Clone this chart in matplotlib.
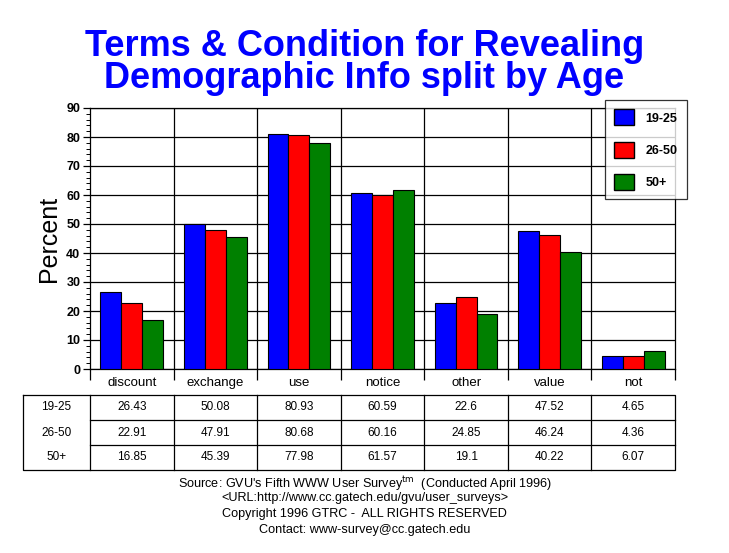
import matplotlib
matplotlib.use('Agg')
import matplotlib.pyplot as plt
from matplotlib.patches import Patch
import numpy as np

# data
categories = ['discount', 'exchange', 'use', 'notice', 'other', 'value', 'not']
groups = ['19-25', '26-50', '50+']
age_19_25 = [26.43, 50.08, 80.93, 60.59, 22.6, 47.52, 4.65]
age_26_50 = [22.91, 47.91, 80.68, 60.16, 24.85, 46.24, 4.36]
age_50p = [16.85, 45.39, 77.98, 61.57, 19.1, 40.22, 6.07]
table_text = [['26.43', '50.08', '80.93', '60.59', '22.6', '47.52', '4.65'],
              ['22.91', '47.91', '80.68', '60.16', '24.85', '46.24', '4.36'],
              ['16.85', '45.39', '77.98', '61.57', '19.1', '40.22', '6.07']]
colors = ['#0000ff', '#ff0000', '#008000']

plt.rcParams['font.family'] = ['Liberation Sans', 'DejaVu Sans']

W, H = 729, 553
fig = plt.figure(figsize=(W / 100, H / 100), dpi=100)

def fx(px):
    return px / W

def fy(py):
    return 1 - py / H

# main axes: pixels 90..675 horizontally, 108..369 vertically
L, R, T, B = 90, 675, 108, 369
ax = fig.add_axes([fx(L), fy(B), fx(R - L), (B - T) / H])
n = len(categories)
x = np.arange(n)
bw = 0.25
series = [age_19_25, age_26_50, age_50p]
for i, s in enumerate(series):
    ax.bar(x + 0.5 + (i - 1) * bw, s, bw, color=colors[i], edgecolor='black', linewidth=0.8, zorder=3)

ax.set_xlim(0, n)
ax.set_ylim(0, 90)
ax.set_yticks(np.arange(0, 91, 10))
ax.set_yticks(np.arange(0, 91, 2), minor=True)
ax.yaxis.grid(True, color='black', linewidth=0.9, zorder=0)
for b in range(1, n):
    ax.axvline(b, color='black', linewidth=0.9, zorder=0)
ax.set_xticks(np.arange(0, n + 1))
ax.set_xticklabels([])
ax.set_xticks(x + 0.5, minor=True)
ax.set_xticklabels(categories, minor=True, fontsize=9.5)
ax.tick_params(axis='x', which='major', length=8, width=0.9)
ax.tick_params(axis='x', which='minor', length=0, pad=6)
ax.tick_params(axis='y', which='major', length=5, width=0.9, labelsize=9, pad=2)
ax.tick_params(axis='y', which='minor', length=3, width=0.7)
for lab in ax.get_yticklabels():
    lab.set_fontweight('bold')
for sp in ax.spines.values():
    sp.set_linewidth(0.9)
ax.set_ylabel('Percent', fontsize=18)
ax.yaxis.set_label_coords((61 - L) / (R - L), 0.5)

# title
fig.text(0.5, fy(46), 'Terms & Condition for Revealing', ha='center', va='center',
         fontsize=26, fontweight='bold', color='#0000ff')
fig.text(0.5, fy(79), 'Demographic Info split by Age', ha='center', va='center',
         fontsize=26, fontweight='bold', color='#0000ff')

# legend
handles = [Patch(facecolor=c, edgecolor='black', label=g) for c, g in zip(colors, groups)]
leg = fig.legend(handles=handles, loc='upper left', bbox_to_anchor=(fx(605), fy(100)),
                 frameon=True, fancybox=False, edgecolor='black', fontsize=9,
                 handlelength=1.6, handleheight=1.6, labelspacing=1.3,
                 borderpad=0.75, handletextpad=0.9, borderaxespad=0)
leg.get_frame().set_linewidth(0.9)
for t in leg.get_texts():
    t.set_fontweight('bold')

# data table under the plot
TL, TT, TB = 23, 395, 470
tax = fig.add_axes([fx(TL), fy(TB), fx(R - TL), (TB - TT) / H])
x0 = (TL - L) / ((R - L) / n)
tax.set_xlim(x0, n)
tax.set_ylim(3, 0)
tax.axis('off')
lw = 0.9
tax.plot([x0, n, n, x0, x0], [0, 0, 3, 3, 0], color='black', linewidth=lw, clip_on=False)
for b in range(0, n):
    tax.plot([b, b], [0, 3], color='black', linewidth=lw, clip_on=False)
for r in (1, 2):
    tax.plot([0, n], [r, r], color='black', linewidth=lw, clip_on=False)
for r, g in enumerate(groups):
    tax.text(x0 / 2, r + 0.5, g, ha='center', va='center', fontsize=8.5)
    for c in range(n):
        tax.text(c + 0.5, r + 0.5, table_text[r][c], ha='center', va='center', fontsize=8.5)

# footer
fs = 9.1
fig.text(0.5, fy(484), "Source: GVU's Fifth WWW User Survey$^{\\rm tm}$  (Conducted April 1996)",
         ha='center', va='center', fontsize=fs)
fig.text(0.5, fy(498), '<URL:http://www.cc.gatech.edu/gvu/user_surveys>',
         ha='center', va='center', fontsize=fs)
fig.text(0.5, fy(514), 'Copyright 1996 GTRC -  ALL RIGHTS RESERVED',
         ha='center', va='center', fontsize=fs)
fig.text(0.5, fy(530), 'Contact: www-survey@cc.gatech.edu',
         ha='center', va='center', fontsize=fs)

fig.savefig('out.png', dpi=100)
